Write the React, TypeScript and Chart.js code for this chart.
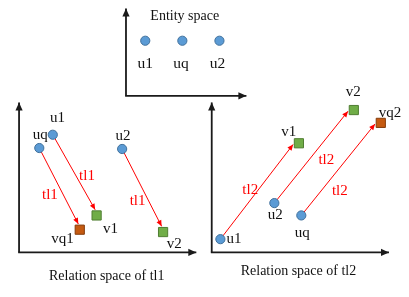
import { useEffect, useRef } from 'react';
import { Chart, registerables } from 'chart.js';

Chart.register(...registerables);

const FONT = '"Liberation Serif", "Times New Roman", serif';

// ---- Top panel: entity space ----
const entityNames = ['u1', 'uq', 'u2'];
const entityX = [143, 181.5, 220];
const entityY = [35, 35, 35];
const entityNameX = [143, 180, 218];
const entityNameY = [64, 64, 64];

// ---- Left panel: relation space of tl1 ----
const tl1HeadNames = ['u1', 'uq', 'u2'];
const tl1HeadX = [47, 33, 119];
const tl1HeadY = [134, 148, 149];
const tl1HeadNameX = [52, 34, 120];
const tl1HeadNameY = [121, 138.5, 140];
const tl1TailNames = ['v1', 'vq1', 'v2'];
const tl1TailX = [92.5, 75, 161.5];
const tl1TailY = [219, 234, 236.5];
const tl1TailIsQuery = [false, true, false];
const tl1TailNameX = [107, 57, 173];
const tl1TailNameY = [237, 248, 253];
const tl1RelName = 'tl1';
const tl1RelX = [82.5, 44, 135];
const tl1RelY = [182, 202, 208];

// ---- Right panel: relation space of tl2 ----
const tl2HeadNames = ['u1', 'u2', 'uq'];
const tl2HeadX = [221, 277, 305];
const tl2HeadY = [244, 206, 219];
const tl2HeadNameX = [235, 278, 306];
const tl2HeadNameY = [248.5, 223, 242];
const tl2TailNames = ['v1', 'v2', 'vq2'];
const tl2TailX = [302.5, 359.5, 387.5];
const tl2TailY = [143, 108, 121.5];
const tl2TailIsQuery = [false, false, true];
const tl2TailNameX = [292, 359, 397];
const tl2TailNameY = [135, 93, 115];
const tl2RelName = 'tl2';
const tl2RelX = [252, 331, 345];
const tl2RelY = [196, 165, 197];

// ---- Axes (origin, end of vertical, end of horizontal) ----
const axisOriginX = [123, 12, 212];
const axisOriginY = [93, 258, 258];
const axisTopY = [1, 100, 100];
const axisRightX = [248, 196, 396];

// ---- Captions ----
const captionTexts = ['Entity space', 'Relation space of tl1', 'Relation space of tl2'];
const captionX = [184, 103, 302];
const captionY = [13, 287, 282];

// ---- Styles ----
const circleFill = '#5B9BD5';
const circleBorder = '#41719C';
const greenFill = '#70AD47';
const greenBorder = '#507E32';
const orangeFill = '#C55A11';
const orangeBorder = '#843C0C';
const red = '#FF0000';
const axisColor = '#1a1a1a';
const tl1TipOffset = { x: -1.5, y: -6 };
const tl2TipOffset = { x: -6, y: 1.2 };

type P = { x: number; y: number };
const pts = (xs: number[], ys: number[]): P[] => xs.map((x, i) => ({ x, y: ys[i] }));

type TextItem = { text: string; x: number; y: number; color: string; size: number };

function buildTexts(): TextItem[] {
  const t: TextItem[] = [];
  const add = (names: string[] | string, xs: number[], ys: number[], color: string, size: number) =>
    xs.forEach((x, i) =>
      t.push({ text: Array.isArray(names) ? names[i] : names, x, y: ys[i], color, size })
    );
  add(captionTexts, captionX, captionY, '#111', 14);
  add(entityNames, entityNameX, entityNameY, '#111', 15.5);
  add(tl1HeadNames, tl1HeadNameX, tl1HeadNameY, '#111', 15);
  add(tl1TailNames, tl1TailNameX, tl1TailNameY, '#111', 15);
  add(tl1RelName, tl1RelX, tl1RelY, red, 15);
  add(tl2HeadNames, tl2HeadNameX, tl2HeadNameY, '#111', 15);
  add(tl2TailNames, tl2TailNameX, tl2TailNameY, '#111', 15);
  add(tl2RelName, tl2RelX, tl2RelY, red, 15);
  return t;
}

const arrowHeadPlugin = {
  id: 'arrowHeads',
  afterDatasetDraw(chart: any, args: any) {
    const ds: any = chart.data.datasets[args.index];
    if (!ds.arrow) return;
    const els = args.meta.data;
    if (els.length < 2) return;
    const p0 = els[els.length - 2];
    const p1 = els[els.length - 1];
    const ang = Math.atan2(p1.y - p0.y, p1.x - p0.x);
    const { len, half, color } = ds.arrow;
    const ctx = chart.ctx;
    ctx.save();
    ctx.translate(p1.x, p1.y);
    ctx.rotate(ang);
    ctx.beginPath();
    ctx.moveTo(0, 0);
    ctx.lineTo(-len, -half);
    ctx.lineTo(-len, half);
    ctx.closePath();
    ctx.fillStyle = color;
    ctx.fill();
    ctx.restore();
  },
};

const textPlugin = {
  id: 'diagramTexts',
  afterDraw(chart: any) {
    const ctx = chart.ctx;
    const xs = chart.scales.x;
    const ys = chart.scales.y;
    ctx.save();
    ctx.textAlign = 'center';
    ctx.textBaseline = 'alphabetic';
    for (const item of buildTexts()) {
      ctx.font = `${item.size}px ${FONT}`;
      ctx.fillStyle = item.color;
      ctx.fillText(item.text, xs.getPixelForValue(item.x), ys.getPixelForValue(item.y));
    }
    ctx.restore();
  },
};

function arrowDatasets(
  hx: number[], hy: number[], tx: number[], ty: number[], off: P
) {
  return hx.map((x, i) => ({
    data: [
      { x, y: hy[i] },
      { x: tx[i] + off.x, y: ty[i] + off.y },
    ],
    showLine: true,
    borderColor: red,
    borderWidth: 1,
    pointRadius: 0,
    order: 1,
    clip: false,
    arrow: { len: 6, half: 2.6, color: red },
  }));
}

function axisDatasets() {
  const out: any[] = [];
  axisOriginX.forEach((ox, i) => {
    const oy = axisOriginY[i];
    out.push({
      data: [{ x: ox, y: oy }, { x: ox, y: axisTopY[i] }],
      showLine: true, borderColor: axisColor, borderWidth: 1.8, pointRadius: 0, order: 2, clip: false,
      arrow: { len: 8, half: 3.6, color: axisColor },
    });
    out.push({
      data: [{ x: ox - 0.9, y: oy }, { x: axisRightX[i], y: oy }],
      showLine: true, borderColor: axisColor, borderWidth: 1.8, pointRadius: 0, order: 2, clip: false,
      arrow: { len: 8, half: 3.6, color: axisColor },
    });
  });
  return out;
}

export default function App() {
  const ref = useRef<HTMLCanvasElement | null>(null);

  useEffect(() => {
    if (!ref.current) return;
    const circles = [
      ...pts(entityX, entityY),
      ...pts(tl1HeadX, tl1HeadY),
      ...pts(tl2HeadX, tl2HeadY),
    ];
    const tails1 = pts(tl1TailX, tl1TailY);
    const tails2 = pts(tl2TailX, tl2TailY);
    const greens = [
      ...tails1.filter((_, i) => !tl1TailIsQuery[i]),
      ...tails2.filter((_, i) => !tl2TailIsQuery[i]),
    ];
    const oranges = [
      ...tails1.filter((_, i) => tl1TailIsQuery[i]),
      ...tails2.filter((_, i) => tl2TailIsQuery[i]),
    ];

    const chart = new Chart(ref.current, {
      type: 'scatter',
      data: {
        datasets: [
          {
            data: circles,
            pointStyle: 'circle',
            pointRadius: 4.6,
            backgroundColor: circleFill,
            borderColor: circleBorder,
            borderWidth: 1,
            order: 0,
            clip: false,
          },
          {
            data: greens,
            pointStyle: 'rect',
            pointRadius: 6.5,
            backgroundColor: greenFill,
            borderColor: greenBorder,
            borderWidth: 1,
            order: 0,
            clip: false,
          },
          {
            data: oranges,
            pointStyle: 'rect',
            pointRadius: 6.5,
            backgroundColor: orangeFill,
            borderColor: orangeBorder,
            borderWidth: 1,
            order: 0,
            clip: false,
          },
          ...arrowDatasets(tl1HeadX, tl1HeadY, tl1TailX, tl1TailY, tl1TipOffset),
          ...arrowDatasets(tl2HeadX, tl2HeadY, tl2TailX, tl2TailY, tl2TipOffset),
          ...axisDatasets(),
        ] as any,
      },
      options: {
        responsive: false,
        animation: false,
        events: [],
        layout: { padding: 0 },
        plugins: { legend: { display: false }, tooltip: { enabled: false } },
        scales: {
          x: { type: 'linear', min: 0, max: 409, display: false },
          y: { type: 'linear', min: 0, max: 297, reverse: true, display: false },
        },
      },
      plugins: [arrowHeadPlugin, textPlugin],
    });
    return () => chart.destroy();
  }, []);

  return (
    <div style={{ position: 'absolute', left: 0, top: 0, width: 409, height: 297, background: '#fff' }}>
      <canvas ref={ref} width={409} height={297} />
    </div>
  );
}
